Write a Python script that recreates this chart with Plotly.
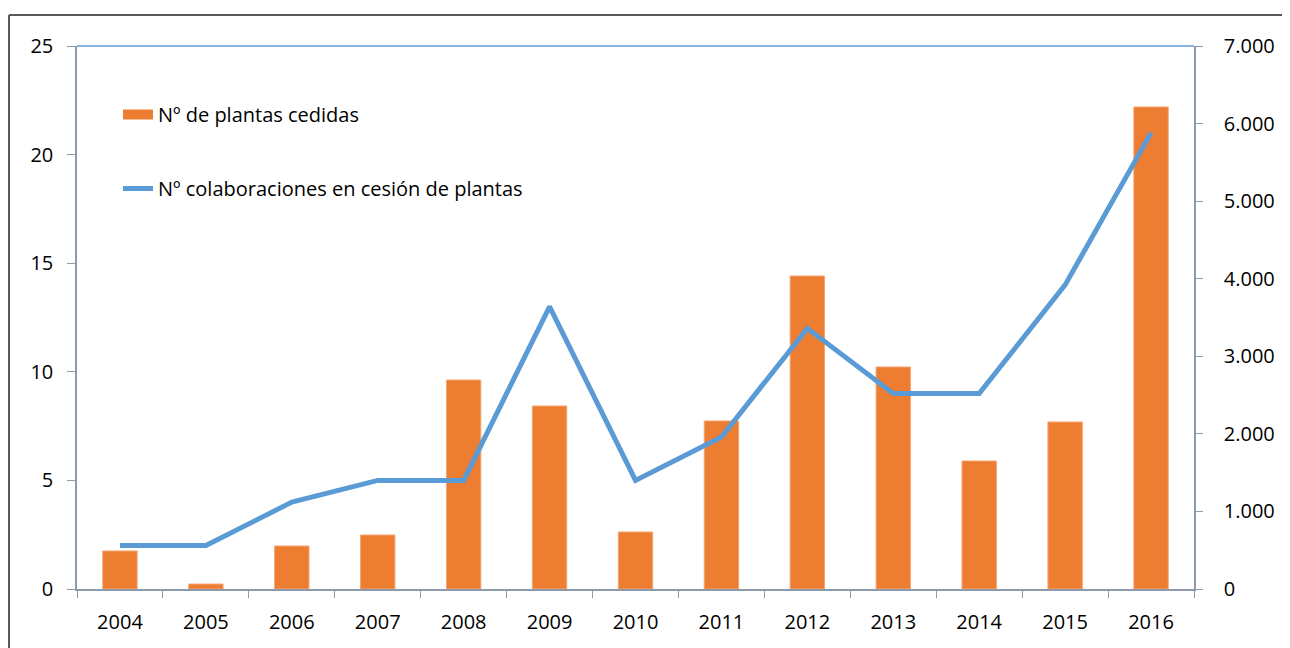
import plotly.graph_objects as go

years = ["2004", "2005", "2006", "2007", "2008", "2009", "2010",
         "2011", "2012", "2013", "2014", "2015", "2016"]
plantas_cedidas = [490, 64, 554, 696, 2694, 2359, 735, 2166, 4035, 2862, 1650, 2153, 6214]
colaboraciones = [2, 2, 4, 5, 5, 13, 5, 7, 12, 9, 9, 14, 21]

bar_name = "Nº de plantas cedidas"
line_name = "Nº colaboraciones en cesión de plantas"

FONT = "Open Sans"
OFF = 8  # browser body margin
W, H = 1282, 640
L, T = 77 - OFF, 46 - OFF
R = W - (1194 - OFF)
B = H - (589 - OFF)
pw = W - L - R
ph = H - T - B

fig = go.Figure()
fig.add_trace(go.Bar(
    x=years, y=plantas_cedidas, name=bar_name, yaxis="y",
    marker=dict(color="#ED7D31", line=dict(color="#F4A472", width=1)),
    showlegend=False,
))
# legend entry for the bars (wide rectangular swatch)
fig.add_trace(go.Scatter(
    x=[None], y=[None], name=bar_name, yaxis="y", mode="lines",
    line=dict(color="#ED7D31", width=15), legend="legend",
))
fig.add_trace(go.Scatter(
    x=years, y=colaboraciones, name=line_name, yaxis="y2", mode="lines",
    line=dict(color="#5B9BD5", width=5),
    legend="legend2",
))

axis_font = dict(family=FONT, size=20, color="#000000")

def px_x(p):
    return (p - OFF - L) / pw

def px_y(p):
    return (H - B - (p - OFF)) / ph

fig.update_layout(
    width=W, height=H,
    margin=dict(l=L, r=R, t=T, b=B, pad=0, autoexpand=False),
    paper_bgcolor="white", plot_bgcolor="white",
    separators=",.",
    bargap=0.6,
    font=dict(family=FONT, size=20, color="#000000"),
    xaxis=dict(
        type="category", tickfont=axis_font, showgrid=False, automargin=False,
        showline=True, linecolor="#8C9AAB", linewidth=1.5,
        ticks="outside", tickson="boundaries", ticklen=7, tickcolor="#8C9AAB",
        ticklabelstandoff=14,
    ),
    yaxis=dict(
        side="right", range=[0, 7000], dtick=1000, tickformat=",",
        showgrid=False, zeroline=False, tickfont=axis_font, automargin=False,
        showline=True, linecolor="#8C9AAB", linewidth=1.5,
        ticks="outside", ticklen=7, tickcolor="#8C9AAB",
        ticklabelstandoff=17,
    ),
    yaxis2=dict(
        side="left", overlaying="y", range=[0, 25], dtick=5,
        showgrid=False, zeroline=False, tickfont=axis_font, automargin=False,
        showline=True, linecolor="#8C9AAB", linewidth=1.5,
        ticks="outside", ticklen=8, tickcolor="#8C9AAB",
        ticklabelstandoff=10,
    ),
    legend=dict(
        x=px_x(118), y=px_y(95), xanchor="left", yanchor="top",
        bgcolor="rgba(0,0,0,0)", font=dict(family=FONT, size=20),
        itemwidth=30,
    ),
    legend2=dict(
        x=px_x(118), y=px_y(169), xanchor="left", yanchor="top",
        bgcolor="rgba(0,0,0,0)", font=dict(family=FONT, size=20),
        itemwidth=30,
    ),
    showlegend=True,
    shapes=[
        dict(type="line", xref="paper", yref="paper", x0=0, x1=1, y0=1, y1=1,
             line=dict(color="#5B9BD5", width=1.5)),
        dict(type="line", xref="paper", yref="paper",
             x0=px_x(9), x1=px_x(1300), y0=px_y(15), y1=px_y(15),
             line=dict(color="#595959", width=2)),
        dict(type="line", xref="paper", yref="paper",
             x0=px_x(9), x1=px_x(9), y0=px_y(15), y1=px_y(660),
             line=dict(color="#595959", width=2)),
    ],
)

fig.write_html("out.html")
